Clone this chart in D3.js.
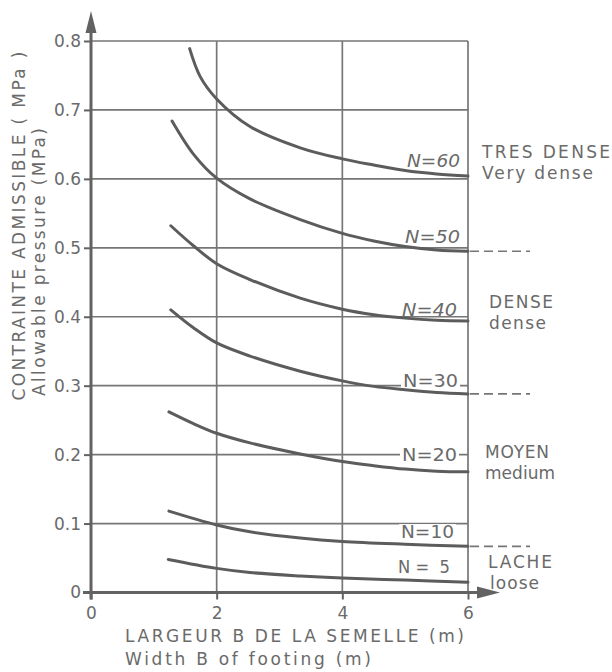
<!DOCTYPE html>
<html><head><meta charset="utf-8">
<script src="https://cdn.jsdelivr.net/npm/d3@7"></script>
<style>
html,body{margin:0;padding:0;background:#fff;}
svg{display:block;}
text{font-family:"DejaVu Sans",sans-serif;fill:#6a6a6a;}
</style></head><body>
<svg id="chart" width="612" height="672"></svg>
<script>
// ---------- DATA ----------
const xTicks = [0, 2, 4, 6];
const xTickLabels = ["0", "2", "4", "6"];
const yTicks = [0, 0.1, 0.2, 0.3, 0.4, 0.5, 0.6, 0.7, 0.8];
const yTickLabels = ["0", "0.1", "0.2", "0.3", "0.4", "0.5", "0.6", "0.7", "0.8"];

const seriesN = [60, 50, 40, 30, 20, 10, 5];
const width_N60 = [1.57, 1.74, 2.0, 2.53, 3.33, 4.0, 4.5, 5.0, 5.5, 6.0];
const press_N60 = [0.789, 0.748, 0.716, 0.676, 0.645, 0.629, 0.620, 0.612, 0.607, 0.604];
const width_N50 = [1.29, 1.63, 2.0, 2.53, 3.33, 4.0, 4.5, 5.0, 5.5, 6.0];
const press_N50 = [0.684, 0.636, 0.601, 0.571, 0.541, 0.521, 0.510, 0.502, 0.497, 0.495];
const width_N40 = [1.27, 1.63, 2.0, 2.53, 3.33, 4.0, 4.5, 5.0, 5.5, 6.0];
const press_N40 = [0.532, 0.503, 0.477, 0.454, 0.427, 0.411, 0.403, 0.398, 0.395, 0.394];
const width_N30 = [1.27, 1.63, 2.0, 2.53, 3.33, 4.0, 4.5, 5.0, 5.5, 6.0];
const press_N30 = [0.410, 0.384, 0.362, 0.343, 0.321, 0.307, 0.299, 0.294, 0.290, 0.288];
const width_N20 = [1.24, 1.63, 2.0, 2.53, 3.33, 4.0, 4.5, 5.0, 5.5, 6.0];
const press_N20 = [0.262, 0.245, 0.231, 0.217, 0.201, 0.190, 0.184, 0.179, 0.176, 0.175];
const width_N10 = [1.24, 2.0, 2.53, 3.33, 4.0, 5.0, 6.0];
const press_N10 = [0.118, 0.098, 0.088, 0.079, 0.074, 0.070, 0.067];
const width_N5 = [1.23, 2.0, 2.53, 3.33, 4.0, 5.0, 6.0];
const press_N5 = [0.048, 0.035, 0.029, 0.024, 0.021, 0.018, 0.015];

const seriesLabels = ["N=60", "N=50", "N=40", "N=30", "N=20", "N=10", "N =  5"];
const boundaryN = [50, 30, 10];           // dashed class boundaries
const classLabelsFr = ["TRES DENSE", "DENSE", "MOYEN", "LACHE"];
const classLabelsEn = ["Very dense", "dense", "medium", "loose"];
const yTitleLines = ["CONTRAINTE ADMISSIBLE ( MPa )", "Allowable pressure (MPa)"];
const xTitleLines = ["LARGEUR B DE LA SEMELLE (m)", "Width B of footing (m)"];

// ---------- LAYOUT / STYLE ----------
const layout = {
  x0px: 91, x6px: 468, y0px: 592.5, y8px: 41,
  seriesLab: [
    {dx: -8,  ref: "end",  dy: -9, len: 53, it: true},
    {dx: -8,  ref: "end",  dy: -8, len: 55, it: true},
    {dx: -11, ref: "end",  dy: -5, len: 55, it: true},
    {dx: -10, ref: "grid", g: 0.3, dy: 1,    len: 55, it: false},
    {dx: -11, ref: "grid", g: 0.2, dy: 6.5,  len: 55, it: false},
    {dx: -14, ref: "grid", g: 0.1, dy: 14.5, len: 53, it: false},
    {dx: -18, ref: "end",  dy: -9, len: 52, it: false}
  ],
  classY: [0.631, 0.412, 0.195, 0.035],
  classDx: [14, 21, 17, 20],
  classLenFr: [128, 64, 64, 64],
  classLenEn: [111, 57, 70, 49]
};
const C = {grid: "#767676", axis: "#626262", curve: "#5c5c5c", text: "#6a6a6a"};

const svg = d3.select("#chart");
svg.append("rect").attr("width", 612).attr("height", 672).attr("fill", "#fff");

const x = d3.scaleLinear().domain([0, 6]).range([layout.x0px, layout.x6px]);
const y = d3.scaleLinear().domain([0, 0.8]).range([layout.y0px, layout.y8px]);

const seriesData = {
  60: [width_N60, press_N60], 50: [width_N50, press_N50], 40: [width_N40, press_N40],
  30: [width_N30, press_N30], 20: [width_N20, press_N20], 10: [width_N10, press_N10], 5: [width_N5, press_N5]
};
const series = seriesN.map(n => {
  const [w, p] = seriesData[n];
  return {n, pts: w.map((v, i) => [v, p[i]])};
});
const endOf = n => series.find(s => s.n === n).pts.slice(-1)[0][1];

// gridlines
const grid = svg.append("g").attr("stroke", C.grid).attr("stroke-width", 1.7);
grid.selectAll(".hg").data(yTicks.filter(v => v > 0)).join("line")
  .attr("x1", x(0)).attr("x2", x(6)).attr("y1", d => y(d)).attr("y2", d => y(d));
grid.selectAll(".vg").data(xTicks.filter(v => v > 0)).join("line")
  .attr("y1", y(0)).attr("y2", y(0.8)).attr("x1", d => x(d)).attr("x2", d => x(d));

// axes ticks + labels
const yAxis = d3.axisLeft(y).tickValues(yTicks).tickFormat((d, i) => yTickLabels[i]).tickSize(7).tickPadding(3);
const gy = svg.append("g").attr("transform", `translate(${x(0)},0)`).call(yAxis);
const xAxis = d3.axisBottom(x).tickValues(xTicks).tickFormat((d, i) => xTickLabels[i]).tickSize(7).tickPadding(7);
const gx = svg.append("g").attr("transform", `translate(0,${y(0)})`).call(xAxis);
[gx, gy].forEach(g => {
  g.select(".domain").remove();
  g.selectAll(".tick line").attr("stroke", C.axis).attr("stroke-width", 2);
  g.selectAll(".tick text").attr("fill", C.text).style("font-size", "17px")
    .style("font-family", '"DejaVu Sans",sans-serif');
});

// main axis lines with arrows
const ax = svg.append("g");
ax.append("line").attr("x1", x(0)).attr("x2", x(0)).attr("y1", y(0) + 7).attr("y2", y(0.8) - 12)
  .attr("stroke", C.axis).attr("stroke-width", 3);
ax.append("path").attr("fill", C.axis)
  .attr("d", `M${x(0)},${y(0.8) - 30} L${x(0) - 5.5},${y(0.8) - 8} L${x(0) + 5.5},${y(0.8) - 8} Z`);
ax.append("line").attr("x1", x(0) - 8).attr("x2", x(6) + 14).attr("y1", y(0)).attr("y2", y(0))
  .attr("stroke", C.axis).attr("stroke-width", 3);
ax.append("path").attr("fill", C.axis)
  .attr("d", `M${x(6) + 32},${y(0)} L${x(6) + 9},${y(0) - 6} L${x(6) + 9},${y(0) + 6} Z`);

// dashed class boundaries
svg.append("g").selectAll("line").data(boundaryN).join("line")
  .attr("x1", x(6) + 2).attr("x2", x(6) + 62)
  .attr("y1", d => y(endOf(d))).attr("y2", d => y(endOf(d)))
  .attr("stroke", C.grid).attr("stroke-width", 1.7).attr("stroke-dasharray", "9,5");

// series label positions
const labG = svg.append("g");
const labs = series.map((s, i) => {
  const L = layout.seriesLab[i];
  const by = L.ref === "end" ? y(endOf(s.n)) + L.dy : y(L.g) + L.dy;
  return {txt: seriesLabels[i], xr: x(6) + L.dx, by, L};
});
labG.selectAll("rect").data(labs.filter(d => d.L.ref === "grid")).join("rect")
  .attr("x", d => d.xr - d.L.len - 2).attr("width", d => d.L.len + 4)
  .attr("y", d => d.by - 14).attr("height", 16).attr("fill", "#fff");

// curves
const line = d3.line().x(d => x(d[0])).y(d => y(d[1])).curve(d3.curveCatmullRom.alpha(0.5));
svg.append("g").selectAll("path").data(series).join("path")
  .attr("d", d => line(d.pts)).attr("fill", "none")
  .attr("stroke", C.curve).attr("stroke-width", 3).attr("stroke-linecap", "round");

labG.selectAll("text").data(labs).join("text")
  .attr("x", d => d.xr).attr("y", d => d.by).attr("text-anchor", "end")
  .attr("textLength", d => d.L.len).attr("lengthAdjust", "spacingAndGlyphs")
  .style("font-size", "17px").style("white-space", "pre")
  .style("font-style", d => d.L.it ? "italic" : "normal")
  .text(d => d.txt);

// density class labels
const cls = svg.append("g");
classLabelsFr.forEach((t, i) => {
  cls.append("text").attr("x", x(6) + layout.classDx[i]).attr("y", y(layout.classY[i]))
    .attr("textLength", layout.classLenFr[i]).attr("lengthAdjust", "spacing")
    .style("font-size", "17px").text(t);
  cls.append("text").attr("x", x(6) + layout.classDx[i] + (i === 3 ? 2 : 0)).attr("y", y(layout.classY[i]) + 21)
    .attr("textLength", layout.classLenEn[i]).attr("lengthAdjust", "spacing")
    .style("font-size", "17px").text(classLabelsEn[i]);
});

// axis titles
svg.append("text").attr("transform", "translate(25,226) rotate(-90)").attr("text-anchor", "middle")
  .attr("textLength", 349).attr("lengthAdjust", "spacing").style("font-size", "17px").text(yTitleLines[0]);
svg.append("text").attr("transform", "translate(45,262) rotate(-90)").attr("text-anchor", "middle")
  .attr("textLength", 268).attr("lengthAdjust", "spacing").style("font-size", "17px").text(yTitleLines[1]);
svg.append("text").attr("x", 125).attr("y", 642)
  .attr("textLength", 339).attr("lengthAdjust", "spacing").style("font-size", "17px").text(xTitleLines[0]);
svg.append("text").attr("x", 125).attr("y", 665)
  .attr("textLength", 246).attr("lengthAdjust", "spacing").style("font-size", "17px").text(xTitleLines[1]);
</script>
</body></html>
